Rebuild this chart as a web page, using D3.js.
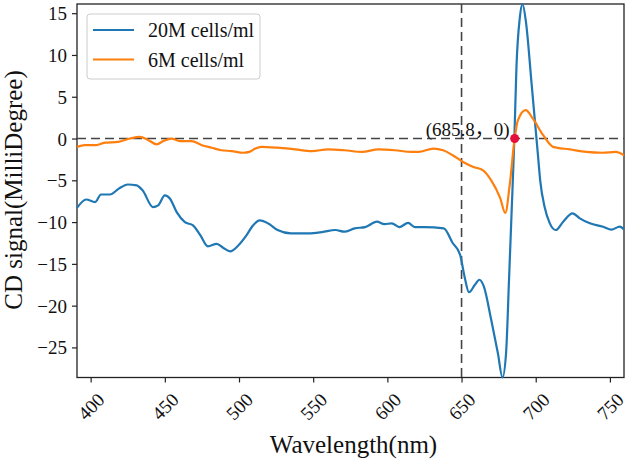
<html>
<head>
    <style>
        body {
            margin: 0;
            background: white;
        }
    </style>
    <script src="https://cdn.jsdelivr.net/npm/d3@7"></script>
</head>
<body>
    <div id="chart"></div>
</body>
<script>
    // 20M cells/ml
    let waveHigh = [390.8, 397, 403, 407, 413, 419, 425, 431, 435, 442, 445.5, 450, 453.5, 458, 463.5, 469, 474, 479, 485, 489.5,
        494, 499.5, 505, 509, 514, 520, 526, 535, 547, 556, 565, 571, 578, 585, 593, 598, 603, 608, 614, 618.5,
        625, 638, 644, 649, 652, 655, 659, 662, 665, 670, 674.5, 677.6, 680, 682, 683.7, 685.6, 687, 689.3, 691.1, 693.3,
        697.2, 701.6, 703, 706, 709.5, 713.5, 718.5, 724.8, 729.7, 736.5, 745.4, 751, 756.7, 759.5];
    let signalHigh = [-8.3, -7.3, -7.6, -6.7, -6.7, -6.0, -5.5, -5.6, -6.2, -8.2, -8.0, -6.8, -7.2, -8.8, -10.0, -10.4, -11.6, -12.9, -12.6, -13.1,
        -13.5, -12.8, -11.6, -10.5, -9.8, -10.2, -10.95, -11.35, -11.35, -11.2, -10.95, -11.15, -10.75, -10.6, -9.95, -10.25, -10.15, -10.6, -10.1, -10.6,
        -10.6, -10.75, -12.5, -13.9, -16.5, -18.4, -17.5, -16.9, -17.7, -21.7, -25.7, -28.6, -25.7, -16.9, -9.0, 0, 8.5, 14.5, 16.1, 14.1,
        6.6, -2.2, -5.0, -8.2, -10.15, -10.95, -9.95, -8.95, -9.55, -10.15, -10.55, -10.9, -10.55, -10.9];

    // 6M cells/ml
    let waveLow = [390.8, 396, 403, 409.5, 418.5, 426.5, 433, 439, 444.5, 449, 454.5, 460, 468, 475, 481.5, 488, 495, 503, 507, 511,
        515, 526, 538, 549, 560, 571, 583, 594, 605, 616, 621, 631, 637.6, 644, 651, 658, 664.5, 670, 676, 679.5,
        682.5, 685.8, 688, 693.3, 698, 705, 711.7, 723, 734, 745, 754, 759.5];
    let signalLow = [-1.0, -0.8, -0.8, -0.5, -0.4, 0, 0.2, -0.2, -0.7, -0.3, 0, -0.3, -0.3, -0.8, -1.1, -1.4, -1.5, -1.7, -1.6, -1.2,
        -1.0, -1.1, -1.3, -1.5, -1.3, -1.4, -1.6, -1.3, -1.4, -1.6, -1.6, -1.2, -1.4, -2.0, -2.8, -3.4, -3.8, -5.0, -7.1, -8.9,
        -5.5, 0, 2.2, 3.4, 2.4, 0.4, -1.0, -1.3, -1.6, -1.7, -1.6, -2.0];

    let seriesNames = ["20M cells/ml", "6M cells/ml"];
    let seriesColors = ["#1f77b4", "#ff7f0e"];
    let xTicks = [400, 450, 500, 550, 600, 650, 700, 750];
    let yTicks = [-25, -20, -15, -10, -5, 0, 5, 10, 15];
    let markX = 650;
    let crossPoint = [685.8, 0];

    const serif = "'Liberation Serif', 'Noto Sans CJK SC', serif";

    function getChartConfig() {
        let width = 629;
        let height = 461;
        let margin = { top: 4, bottom: 83.5, left: 77, right: 5 };
        let bodyWidth = width - margin.left - margin.right;
        let bodyHeight = height - margin.top - margin.bottom;
        let svg = d3.select("#chart").append("svg")
            .attr("width", width)
            .attr("height", height);
        let container = svg.append("g")
            .attr("transform", "translate(" + [margin.left, margin.top] + ")");
        return { width, height, margin, bodyWidth, bodyHeight, svg, container };
    }

    function getChartScales(config) {
        let { bodyWidth, bodyHeight } = config;
        let xScale = d3.scaleLinear()
            .domain(d3.extent(waveHigh))
            .range([0, bodyWidth]);
        let yScale = d3.scaleLinear()
            .domain(d3.extent(signalHigh))
            .range([bodyHeight, 0]);
        return { xScale, yScale };
    }

    function drawAxes(scales, config) {
        let { xScale, yScale } = scales;
        let { container, bodyHeight, bodyWidth } = config;

        let axisX = d3.axisBottom(xScale).tickValues(xTicks).tickSize(5).tickFormat(d3.format("d"));
        let gx = container.append("g")
            .attr("transform", "translate(0," + bodyHeight + ")")
            .call(axisX);
        gx.select(".domain").remove();
        gx.selectAll("line").attr("stroke", "#222").attr("stroke-width", 1.2);
        gx.selectAll("text")
            .attr("font-size", 19)
            .attr("text-anchor", "middle")
            .attr("dominant-baseline", "central")
            .attr("dy", null)
            .attr("y", 0)
            .attr("transform", "translate(0,29) rotate(-45)");

        let axisY = d3.axisLeft(yScale).tickValues(yTicks).tickSize(5)
            .tickFormat(d => d < 0 ? "\u2212" + Math.abs(d) : d);
        let gy = container.append("g").call(axisY);
        gy.select(".domain").remove();
        gy.selectAll("line").attr("stroke", "#222").attr("stroke-width", 1.2);
        gy.selectAll("text")
            .attr("font-size", 19)
            .attr("x", -10)
            .attr("dy", null)
            .attr("dominant-baseline", "central");

        // frame
        container.append("rect")
            .attr("x", 0).attr("y", 0)
            .attr("width", bodyWidth).attr("height", bodyHeight)
            .attr("fill", "none")
            .attr("stroke", "#222")
            .attr("stroke-width", 1.3);

        container.append("text")
            .attr("x", bodyWidth / 2 + 3)
            .attr("y", bodyHeight + 75)
            .attr("text-anchor", "middle")
            .attr("font-size", 25)
            .text("Wavelength(nm)");

        container.append("text")
            .attr("transform", "translate(-55,186) rotate(-90)")
            .attr("text-anchor", "middle")
            .attr("font-size", 25)
            .text("CD signal(MilliDegree)");
    }

    function drawGuides(scales, config) {
        let { xScale, yScale } = scales;
        let { container, bodyWidth, bodyHeight } = config;
        container.append("line")
            .attr("x1", 0).attr("x2", bodyWidth)
            .attr("y1", yScale(0)).attr("y2", yScale(0))
            .attr("stroke", "#444").attr("stroke-width", 1.6)
            .attr("stroke-dasharray", "9,5");
        container.append("line")
            .attr("x1", xScale(markX)).attr("x2", xScale(markX))
            .attr("y1", 0).attr("y2", bodyHeight)
            .attr("stroke", "#444").attr("stroke-width", 1.6)
            .attr("stroke-dasharray", "9,5");
    }

    function drawLines(scales, config) {
        let { xScale, yScale } = scales;
        let { container } = config;
        let line = d3.line()
            .x(d => xScale(d[0]))
            .y(d => yScale(d[1]))
            .curve(d3.curveMonotoneX);
        let series = [
            d3.zip(waveHigh, signalHigh),
            d3.zip(waveLow, signalLow)
        ];
        series.forEach((s, i) => {
            container.append("path")
                .datum(s)
                .attr("d", line)
                .attr("fill", "none")
                .attr("stroke", seriesColors[i])
                .attr("stroke-width", 2.2)
                .attr("stroke-linejoin", "round");
        });

        container.append("circle")
            .attr("cx", xScale(crossPoint[0]))
            .attr("cy", yScale(crossPoint[1]))
            .attr("r", 4.5)
            .attr("fill", "#e60f3c");

        container.append("text")
            .attr("x", xScale(crossPoint[0]) - 5)
            .attr("y", yScale(crossPoint[1]) - 3)
            .attr("text-anchor", "end")
            .attr("font-size", 19)
            .text("(" + crossPoint[0] + "\uff0c" + crossPoint[1] + ")");
    }

    function drawLegend(config) {
        let { container } = config;
        let legend = container.append("g").attr("transform", "translate(10,10)");
        legend.append("rect")
            .attr("width", 173).attr("height", 65)
            .attr("rx", 3)
            .attr("fill", "white").attr("fill-opacity", 0.8)
            .attr("stroke", "#ccc").attr("stroke-width", 1);
        seriesNames.forEach((name, i) => {
            let y = 16 + i * 29.5;
            legend.append("line")
                .attr("x1", 6).attr("x2", 47)
                .attr("y1", y).attr("y2", y)
                .attr("stroke", seriesColors[i]).attr("stroke-width", 2.2);
            legend.append("text")
                .attr("x", 61).attr("y", y)
                .attr("dominant-baseline", "central")
                .attr("font-size", 20)
                .text(name);
        });
    }

    let config = getChartConfig();
    let scales = getChartScales(config);
    drawAxes(scales, config);
    drawGuides(scales, config);
    drawLines(scales, config);
    drawLegend(config);
    // one font for every label
    config.svg.selectAll("text")
        .style("font-family", serif)
        .style("fill", "#111");
</script>
</html>
